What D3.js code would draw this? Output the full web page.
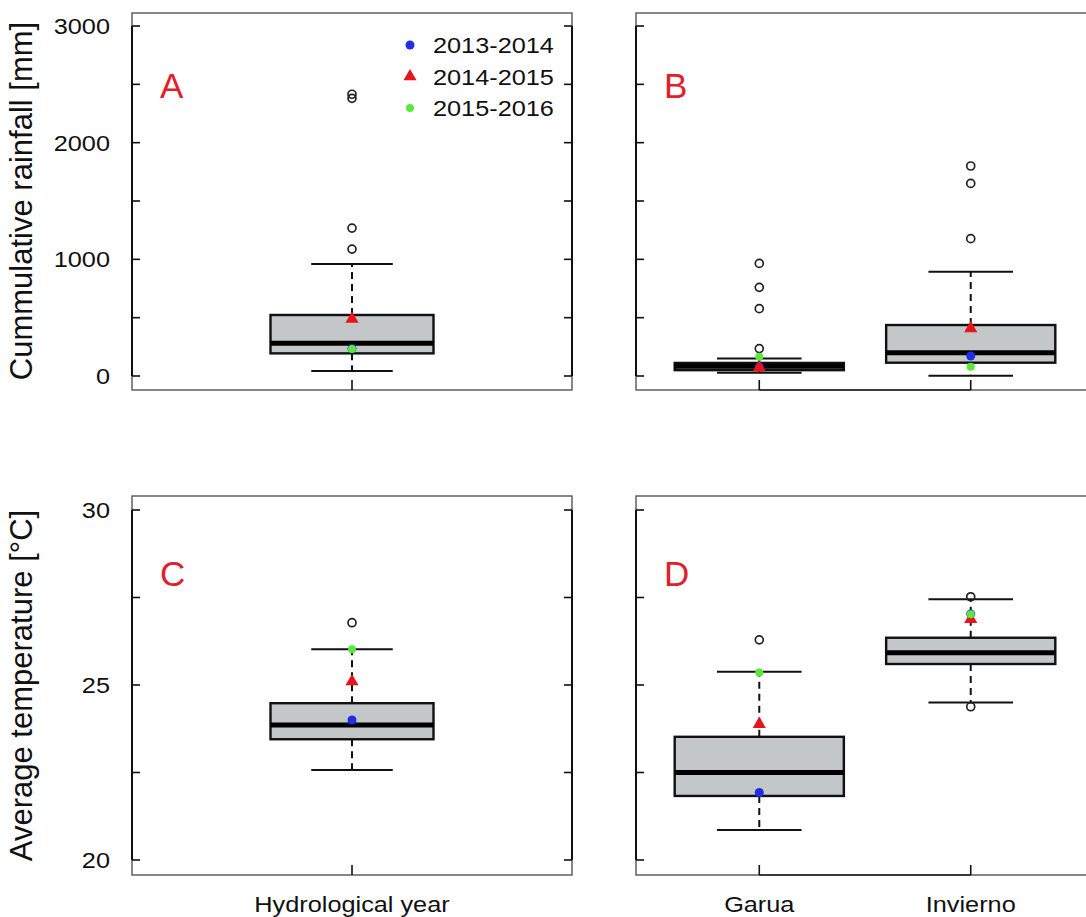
<!DOCTYPE html>
<html><head><meta charset="utf-8">
<script src="https://cdn.jsdelivr.net/npm/d3@7"></script>
<style>body{margin:0;background:#fff}svg{display:block}</style>
</head><body>
<script>
// ---------- data ----------
const seasons = ["2013-2014", "2014-2015", "2015-2016"];
const seasonColors = ["#1f2fe8", "#e8141c", "#5ae83a"];
const rainTicks = [0, 1000, 2000, 3000];
const rainMinorTicks = [0, 500, 1000, 1500, 2000, 2500, 3000];
const tempTicks = [20, 25, 30];
const tempMinorTicks = [20, 22.5, 25, 27.5, 30];
const yearCategories = ["Hydrological year"];
const seasonCategories = ["Garua", "Invierno"];
// each stats entry: [lower whisker, Q1, median, Q3, upper whisker]
const rainYearStats = [[43, 194, 280, 523, 960]];
const rainYearOutliers = [[2415, 2380, 1268, 1088]];
const rainYearPoints = [[235, 490, 231]];          // 2013-14, 2014-15, 2015-16
const rainSeasonStats = [[28, 50, 83, 112, 150], [3, 114, 200, 437, 894]];
const rainSeasonOutliers = [[965, 760, 577, 235], [1800, 1651, 1177]];
const rainSeasonPoints = [[78, 72, 165], [171, 408, 80]];
const tempYearStats = [[22.57, 23.45, 23.86, 24.48, 26.02]];
const tempYearOutliers = [[26.78]];
const tempYearPoints = [[24.0, 25.1, 26.02]];
const tempSeasonStats = [[20.86, 21.83, 22.5, 23.52, 25.38], [24.5, 25.6, 25.92, 26.35, 27.45]];
const tempSeasonOutliers = [[26.29], [27.52, 24.38]];
const tempSeasonPoints = [[21.93, 23.88, 25.36], [27.03, 26.88, 27.02]];

// ---------- layout ----------
const W = 1086, H = 917;
const FONT = "'Liberation Sans', Arial, Helvetica, sans-serif";
const STRETCH = 1.15;
const svg = d3.select("body").append("svg").attr("width", W).attr("height", H)
  .style("font-family", FONT);

const rainY = d3.scaleLinear().domain([0, 3000]).range([376, 26]);
const tempY = d3.scaleLinear().domain([20, 30]).range([860, 510]);

const panels = [
  {letter: "A", x0: 132, x1: 572, y0: 13, y1: 390, y: rainY, cats: yearCategories,
   stats: rainYearStats, out: rainYearOutliers, pts: rainYearPoints,
   major: rainTicks, minor: rainMinorTicks, labels: true, legend: true, xlab: false, boxW: 163, letterY: 98},
  {letter: "B", x0: 636, x1: 1094, y0: 13, y1: 390, y: rainY, cats: seasonCategories,
   stats: rainSeasonStats, out: rainSeasonOutliers, pts: rainSeasonPoints,
   major: rainTicks, minor: rainMinorTicks, labels: false, legend: false, xlab: false, boxW: null, letterY: 98},
  {letter: "C", x0: 132, x1: 572, y0: 496, y1: 875, y: tempY, cats: yearCategories,
   stats: tempYearStats, out: tempYearOutliers, pts: tempYearPoints,
   major: tempTicks, minor: tempMinorTicks, labels: true, legend: false, xlab: true, boxW: 163, letterY: 586},
  {letter: "D", x0: 636, x1: 1094, y0: 496, y1: 875, y: tempY, cats: seasonCategories,
   stats: tempSeasonStats, out: tempSeasonOutliers, pts: tempSeasonPoints,
   major: tempTicks, minor: tempMinorTicks, labels: false, legend: false, xlab: true, boxW: null, letterY: 586}
];

function stretchedText(g, x, y, str, size, anchor, fill) {
  return g.append("text")
    .attr("transform", `translate(${x},${y}) scale(${STRETCH},1)`)
    .attr("text-anchor", anchor).attr("font-size", size)
    .attr("fill", fill || "#111").text(str);
}

function drawSymbol(g, j, cx, cy) {
  if (j === 1) {
    g.append("path").attr("d", d3.symbol().type(d3.symbolTriangle).size(75)())
      .attr("transform", `translate(${cx},${cy})`).attr("fill", seasonColors[j]);
  } else {
    g.append("circle").attr("cx", cx).attr("cy", cy).attr("r", j === 0 ? 4.5 : 4)
      .attr("fill", seasonColors[j]);
  }
}

panels.forEach(p => {
  const g = svg.append("g");
  const xs = d3.scalePoint().domain(p.cats).range([p.x0, p.x1]).padding(0.583);
  const bw = p.boxW || 0.8 * xs.step();
  const y = p.y;

  // frame
  g.append("rect").attr("x", p.x0).attr("y", p.y0).attr("width", p.x1 - p.x0)
    .attr("height", p.y1 - p.y0).attr("fill", "none").attr("stroke", "#555").attr("stroke-width", 1.4);

  // left / right axes
  const yMin = y(d3.min(p.minor)), yMax = y(d3.max(p.minor));
  [p.x0, p.x1].forEach((ax, k) => {
    g.append("line").attr("x1", ax).attr("x2", ax).attr("y1", yMin).attr("y2", yMax)
      .attr("stroke", "#111").attr("stroke-width", 2);
    g.selectAll(null).data(p.minor).join("line")
      .attr("x1", ax).attr("x2", k === 0 ? ax + 8 : ax - 8)
      .attr("y1", d => y(d)).attr("y2", d => y(d))
      .attr("stroke", "#111").attr("stroke-width", 1.6);
  });
  if (p.labels) {
    p.major.forEach(t => stretchedText(g, 110, y(t) + 8, String(t), 22, "end"));
  }

  // bottom axis
  const cxs = p.cats.map(c => xs(c));
  if (cxs.length > 1) {
    g.append("line").attr("x1", cxs[0]).attr("x2", cxs[cxs.length - 1])
      .attr("y1", p.y1).attr("y2", p.y1).attr("stroke", "#222").attr("stroke-width", 1.6);
  }
  cxs.forEach(cx => g.append("line").attr("x1", cx).attr("x2", cx)
    .attr("y1", p.y1).attr("y2", p.y1 - 10).attr("stroke", "#111").attr("stroke-width", 1.6));
  if (p.xlab) {
    p.cats.forEach(c => stretchedText(g, xs(c), 912, c, 22, "middle"));
  }

  // boxes
  p.cats.forEach((c, i) => {
    const s = p.stats[i], cx = xs(c);
    [[s[3], s[4]], [s[1], s[0]]].forEach(([a, b]) => {
      g.append("line").attr("x1", cx).attr("x2", cx).attr("y1", y(a)).attr("y2", y(b))
        .attr("stroke", "#111").attr("stroke-width", 2).attr("stroke-dasharray", "7,5");
    });
    [s[0], s[4]].forEach(v => {
      g.append("line").attr("x1", cx - bw / 4).attr("x2", cx + bw / 4)
        .attr("y1", y(v)).attr("y2", y(v)).attr("stroke", "#111").attr("stroke-width", 2);
    });
    g.append("rect").attr("x", cx - bw / 2).attr("y", y(s[3])).attr("width", bw)
      .attr("height", y(s[1]) - y(s[3])).attr("fill", "#c3c7c7")
      .attr("stroke", "#111").attr("stroke-width", 2.4);
    g.append("line").attr("x1", cx - bw / 2).attr("x2", cx + bw / 2)
      .attr("y1", y(s[2])).attr("y2", y(s[2])).attr("stroke", "#000").attr("stroke-width", 5);
    p.out[i].forEach(v => {
      g.append("circle").attr("cx", cx).attr("cy", y(v)).attr("r", 4)
        .attr("fill", "none").attr("stroke", "#222").attr("stroke-width", 1.7);
    });
    p.pts[i].forEach((v, j) => drawSymbol(g, j, cx, y(v)));
  });

  // panel letter
  g.append("text").attr("x", p.x0 + 28).attr("y", p.letterY).attr("font-size", 35)
    .attr("fill", "#e0202a").text(p.letter);

  // legend
  if (p.legend) {
    const rows = [45, 76.5, 108];
    seasons.forEach((s, j) => {
      drawSymbol(g, j, 410, rows[j]);
      stretchedText(g, 433, rows[j] + 8, s, 22, "start");
    });
  }
});

// y-axis titles
[["Cummulative rainfall [mm]", 201], ["Average temperature [\u00B0C]", 685.5]].forEach(([t, cy]) => {
  svg.append("text").attr("transform", `translate(32,${cy}) rotate(-90)`)
    .attr("text-anchor", "middle").attr("font-size", 31).attr("fill", "#111").text(t);
});
</script>
</body></html>
